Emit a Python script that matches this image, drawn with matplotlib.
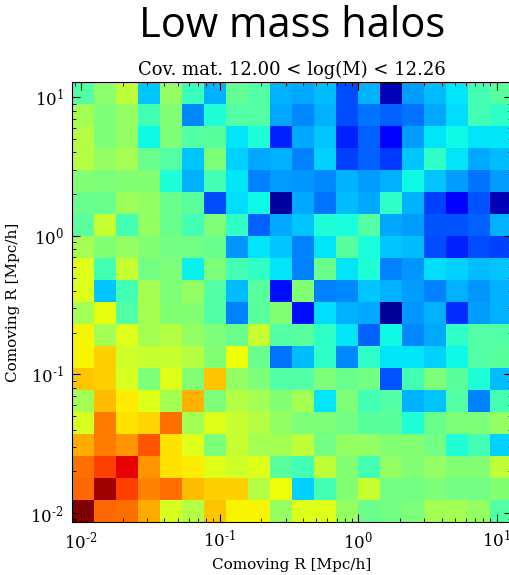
import numpy as np
import matplotlib
matplotlib.use('Agg')
import matplotlib.pyplot as plt
from matplotlib.ticker import FuncFormatter

# bin edges in Mpc/h (log spaced), same for both axes
r_edges = np.logspace(-2.065, 1.11, 21)

# covariance values, rows listed from the largest R (top) down to the smallest R (bottom)
cov_top = [
    [0.45, 0.52, 0.58, 0.32, 0.53, 0.42, 0.30, 0.47, 0.45, 0.30, 0.29, 0.31, 0.20, 0.30, 0.05, 0.28, 0.31, 0.35, 0.43, 0.46],
    [0.55, 0.50, 0.53, 0.43, 0.51, 0.26, 0.39, 0.45, 0.45, 0.29, 0.26, 0.30, 0.20, 0.24, 0.22, 0.24, 0.29, 0.34, 0.43, 0.41],
    [0.57, 0.50, 0.53, 0.37, 0.50, 0.45, 0.46, 0.35, 0.39, 0.16, 0.29, 0.32, 0.16, 0.22, 0.12, 0.28, 0.35, 0.37, 0.35, 0.35],
    [0.57, 0.53, 0.55, 0.48, 0.45, 0.32, 0.50, 0.33, 0.29, 0.30, 0.25, 0.33, 0.19, 0.22, 0.18, 0.32, 0.41, 0.35, 0.29, 0.31],
    [0.51, 0.50, 0.51, 0.51, 0.39, 0.30, 0.43, 0.35, 0.25, 0.28, 0.27, 0.26, 0.30, 0.28, 0.30, 0.37, 0.32, 0.28, 0.24, 0.28],
    [0.48, 0.48, 0.54, 0.53, 0.48, 0.46, 0.20, 0.34, 0.37, 0.03, 0.29, 0.24, 0.31, 0.29, 0.41, 0.30, 0.19, 0.12, 0.21, 0.05],
    [0.46, 0.59, 0.43, 0.53, 0.48, 0.43, 0.50, 0.41, 0.22, 0.29, 0.32, 0.39, 0.38, 0.45, 0.29, 0.28, 0.21, 0.21, 0.22, 0.30],
    [0.55, 0.51, 0.53, 0.51, 0.49, 0.49, 0.48, 0.27, 0.35, 0.32, 0.25, 0.35, 0.46, 0.38, 0.32, 0.31, 0.20, 0.16, 0.20, 0.19],
    [0.62, 0.43, 0.59, 0.49, 0.50, 0.36, 0.50, 0.43, 0.41, 0.35, 0.25, 0.48, 0.35, 0.39, 0.25, 0.27, 0.34, 0.33, 0.31, 0.32],
    [0.62, 0.32, 0.43, 0.55, 0.50, 0.53, 0.45, 0.31, 0.46, 0.14, 0.51, 0.25, 0.26, 0.32, 0.30, 0.28, 0.25, 0.30, 0.27, 0.30],
]
cov_bottom = [
    [0.55, 0.63, 0.45, 0.55, 0.51, 0.51, 0.45, 0.25, 0.46, 0.51, 0.14, 0.34, 0.30, 0.29, 0.02, 0.27, 0.30, 0.17, 0.28, 0.30],
    [0.65, 0.55, 0.62, 0.55, 0.57, 0.53, 0.50, 0.48, 0.59, 0.45, 0.46, 0.41, 0.35, 0.22, 0.37, 0.26, 0.29, 0.41, 0.45, 0.45],
    [0.65, 0.69, 0.60, 0.59, 0.59, 0.57, 0.51, 0.64, 0.48, 0.24, 0.31, 0.41, 0.26, 0.41, 0.35, 0.35, 0.33, 0.37, 0.45, 0.46],
    [0.70, 0.69, 0.61, 0.50, 0.62, 0.51, 0.70, 0.53, 0.50, 0.45, 0.45, 0.50, 0.48, 0.49, 0.21, 0.43, 0.50, 0.46, 0.39, 0.31],
    [0.55, 0.71, 0.66, 0.62, 0.55, 0.72, 0.50, 0.57, 0.55, 0.51, 0.55, 0.35, 0.50, 0.43, 0.45, 0.30, 0.32, 0.45, 0.25, 0.43],
    [0.61, 0.78, 0.67, 0.68, 0.79, 0.55, 0.62, 0.59, 0.57, 0.53, 0.50, 0.50, 0.49, 0.46, 0.46, 0.39, 0.48, 0.50, 0.50, 0.53],
    [0.73, 0.78, 0.75, 0.82, 0.67, 0.62, 0.50, 0.59, 0.55, 0.55, 0.58, 0.49, 0.53, 0.53, 0.51, 0.51, 0.49, 0.39, 0.43, 0.33],
    [0.79, 0.84, 0.91, 0.75, 0.67, 0.66, 0.62, 0.60, 0.62, 0.46, 0.43, 0.58, 0.51, 0.43, 0.53, 0.51, 0.53, 0.51, 0.51, 0.58],
    [0.80, 0.97, 0.84, 0.77, 0.79, 0.71, 0.69, 0.69, 0.57, 0.64, 0.33, 0.43, 0.51, 0.59, 0.49, 0.49, 0.50, 0.49, 0.49, 0.51],
    [1.00, 0.80, 0.79, 0.73, 0.61, 0.57, 0.70, 0.65, 0.65, 0.53, 0.62, 0.62, 0.53, 0.48, 0.49, 0.50, 0.55, 0.55, 0.53, 0.45],
]

title_text = 'Low mass halos'
subtitle_text = 'Cov. mat. 12.00 < log(M) < 12.26'
axis_label = 'Comoving R [Mpc/h]'

plt.rcParams['font.family'] = 'DejaVu Serif'
plt.rcParams['mathtext.fontset'] = 'dejavuserif'

# flip so row 0 is the smallest R
cov = np.array(cov_top + cov_bottom)[::-1]


def pow_label(v, pos):
    # short hyphen instead of the wide mathtext minus
    e = int(round(np.log10(v)))
    return '$10^{%s}$' % str(e).replace('-', '\u2010')


fig = plt.figure(figsize=(5.09, 5.75), dpi=100)
ax = fig.add_axes([72 / 509, 53 / 575, 440 / 509, 440 / 575])

ax.pcolormesh(r_edges, r_edges, cov, cmap='jet', vmin=0, vmax=1)
ax.set_xscale('log')
ax.set_yscale('log')
ax.set_xlim(r_edges[0], r_edges[-1])
ax.set_ylim(r_edges[0], r_edges[-1])
ax.xaxis.set_major_formatter(FuncFormatter(pow_label))
ax.yaxis.set_major_formatter(FuncFormatter(pow_label))

ax.tick_params(which='both', direction='in', top=True, right=True, labelsize=12, pad=6)
ax.tick_params(which='major', length=6)
ax.tick_params(which='minor', length=3)

ax.set_xlabel(axis_label, fontsize=11)
ax.set_ylabel(axis_label, fontsize=11)
ax.yaxis.set_label_coords(-0.118, 0.5)
ax.set_title(subtitle_text, fontsize=13, pad=5)

fig.text(292 / 509, 1 - 26 / 575, title_text, family='Open Sans', fontsize=30,
         ha='center', va='center')

fig.savefig('out.png', dpi=100)
